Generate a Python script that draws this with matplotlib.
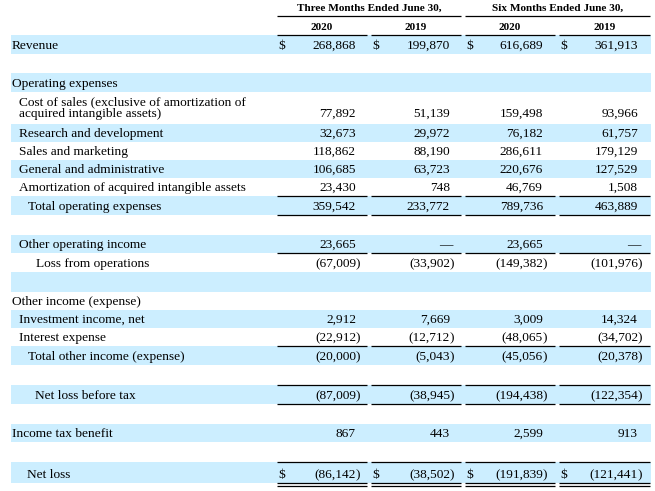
import matplotlib
matplotlib.use("Agg")
import matplotlib.pyplot as plt
from matplotlib.patches import Rectangle

# values in thousands; None means a dash
labels = ["Revenue", "", "Operating expenses",
          "Cost of sales (exclusive of amortization of\nacquired intangible assets)",
          "Research and development", "Sales and marketing",
          "General and administrative", "Amortization of acquired intangible assets",
          "Total operating expenses", "", "Other operating income",
          "Loss from operations", "", "Other income (expense)",
          "Investment income, net", "Interest expense",
          "Total other income (expense)", "", "Net loss before tax", "",
          "Income tax benefit", "", "Net loss"]
q2_2020 = [268868, "", "", 77892, 32673, 118862, 106685, 23430, 359542, "", 23665,
           -67009, "", "", 2912, -22912, -20000, "", -87009, "", 867, "", -86142]
q2_2019 = [199870, "", "", 51139, 29972, 88190, 63723, 748, 233772, "", None,
           -33902, "", "", 7669, -12712, -5043, "", -38945, "", 443, "", -38502]
h1_2020 = [616689, "", "", 159498, 76182, 286611, 220676, 46769, 789736, "", 23665,
           -149382, "", "", 3009, -48065, -45056, "", -194438, "", 2599, "", -191839]
h1_2019 = [361913, "", "", 93966, 61757, 179129, 127529, 1508, 463889, "", None,
           -101976, "", "", 14324, -34702, -20378, "", -122354, "", 913, "", -121441]
group_titles = ["Three Months Ended June 30,", "Six Months Ended June 30,"]
years = ["2020", "2019", "2020", "2019"]

# layout (pixels)
heights = [19, 19, 19, 32, 18, 18, 18, 18, 19, 20, 18, 19, 20, 18, 18, 18, 19, 20, 19, 20, 18, 20, 21]
indent = [12, 0, 12, 19, 19, 19, 19, 19, 28, 0, 19, 36, 0, 12, 19, 19, 28, 0, 35, 0, 12, 0, 27]
shaded = [1, 0, 1, 0, 1, 0, 1, 0, 1, 0, 1, 0, 1, 0, 1, 0, 1, 0, 1, 0, 1, 0, 1]
dollar_rows = [0, 22]
line_top = [8, 11, 16, 18, 22]
line_bottom = [8, 18]
seg = [(277, 367), (371, 461), (465, 555), (559, 650)]
num_right = [356, 450, 543, 638]

FONT = "Liberation Serif"
FS = 9.6
HFS = 8.1
BLUE = "#cceeff"

fig = plt.figure(figsize=(6.55, 4.91), dpi=100)
ax = fig.add_axes([0, 0, 1, 1])
ax.set_xlim(0, 655)
ax.set_ylim(491, 0)
ax.axis("off")

def hline(y, x0, x1):
    ax.plot([x0, x1], [y, y], color="black", lw=0.9, solid_capstyle="butt")

def txt(x, y, s, ha="left"):
    ax.text(x, y, s, ha=ha, va="baseline", fontsize=FS, family=FONT)

# header
hline(16, seg[0][0], seg[1][1])
hline(16, seg[2][0], seg[3][1])
for k, title in enumerate(group_titles):
    ax.text((seg[2 * k][0] + seg[2 * k + 1][1]) / 2, 11, title, ha="center",
            va="baseline", fontsize=HFS, fontweight="bold", family=FONT)
for (a, b), yr in zip(seg, years):
    ax.text((a + b) / 2, 30, yr, ha="center", va="baseline", fontsize=HFS,
            fontweight="bold", family=FONT)
    hline(34.5, a, b)

cols = [q2_2020, q2_2019, h1_2020, h1_2019]
top = 35
for i, lab in enumerate(labels):
    h = heights[i]
    bot = top + h
    if shaded[i]:
        ax.add_patch(Rectangle((11, top), 640, h, color=BLUE, lw=0))
    base = bot - 5
    if "\n" in lab:
        base = bot - 7
        l1, l2 = lab.split("\n")
        txt(indent[i], base - 12, l1)
        txt(indent[i], base, l2)
    elif lab:
        txt(indent[i], base, lab)
    for c, col in enumerate(cols):
        v = col[i]
        if v == "":
            continue
        xr = num_right[c]
        if v is None:
            txt(xr + 2, base, "\u2014", ha="right")
        elif v < 0:
            txt(xr, base, f"({-v:,}", ha="right")
            txt(xr, base, ")")
        else:
            txt(xr, base, f"{v:,}", ha="right")
        if i in dollar_rows:
            txt(seg[c][0] + 1, base, "$")
    for a, b in seg:
        if i in line_top:
            hline(top, a, b)
        if i in line_bottom:
            hline(bot, a, b)
        if i == 22:
            hline(bot, a, b)
            hline(bot + 2.5, a, b)
    top = bot

fig.savefig("out.png", dpi=100)
